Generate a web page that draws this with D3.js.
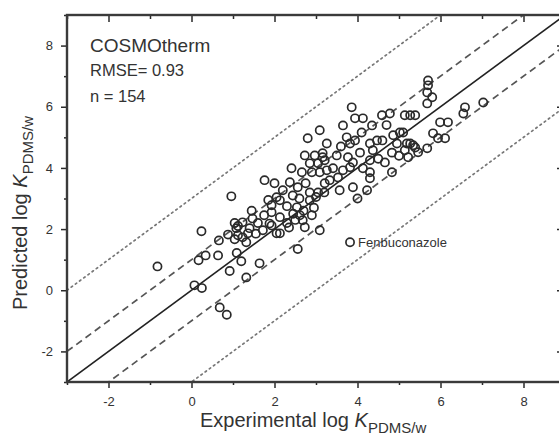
<!DOCTYPE html>
<html><head><meta charset="utf-8">
<script src="https://cdn.jsdelivr.net/npm/d3@7"></script>
<style>
html,body{margin:0;padding:0;background:#fff;}
svg{display:block;font-family:"Liberation Sans",Arial,sans-serif;}
</style></head>
<body>
<svg id="c" width="559" height="438"></svg>
<script>
// ---- data ----
const experimental = [
-0.82,0.24,0.07,0.25,0.17,0.34,0.64,0.66,0.88,0.68,0.85,0.92,1.09,1.2,1.32,1.64,1.32,1.36,1.12,1.12,
1.04,1.08,1.04,0.96,1.72,1.88,2.05,1.23,1.47,1.4,1.93,2.13,1.23,2.56,3.09,2.73,2.68,2.61,2.13,1.93,
2.54,1.93,2.05,2.13,2.85,2.44,2.2,2.85,3.05,2.56,2.37,2.0,1.76,2.41,2.66,2.9,3.09,3.26,2.85,3.05,
2.73,2.97,3.16,2.8,3.09,3.82,
3.86,3.94,4.13,4.59,4.78,5.14,5.27,5.39,3.65,4.35,4.1,5.02,4.86,3.74,3.94,3.82,3.26,4.3,4.47,4.95,
5.27,4.06,4.37,4.83,5.14,5.39,3.5,3.77,3.16,3.21,3.89,4.3,4.66,3.41,3.65,3.82,4.13,4.3,4.83,3.33,
3.53,4.3,3.89,3.57,4.23,4.0,3.21,
5.7,5.7,5.68,5.8,5.68,7.03,6.59,6.55,5.99,6.18,5.82,5.94,6.11,5.1,5.19,5.34,5.46,5.68,5.22,
1.6,1.75,2.3,2.45,2.3,2.7,2.95,2.75,2.35,1.55,2.9,3.0,2.6,1.85,3.2,2.5,4.6,5.0,4.5,3.6,4.7,1.45
];
const predicted = [
0.78,1.93,0.16,0.07,0.98,1.14,1.14,1.63,1.82,-0.56,-0.8,0.63,1.22,0.95,0.42,0.88,1.57,1.86,1.8,2.1,
2.2,2.03,1.67,3.07,1.96,2.18,1.86,2.22,2.35,2.03,2.12,1.86,1.73,1.35,1.96,2.06,2.29,2.45,2.39,2.55,
2.71,2.78,3.04,2.94,2.94,3.1,3.27,3.2,3.2,3.37,3.53,3.5,3.6,3.99,3.86,3.86,3.86,3.92,4.15,4.15,
4.41,4.41,4.35,4.97,5.23,1.57,
5.98,5.62,5.62,5.72,5.78,5.72,5.72,5.72,5.39,5.39,5.16,5.16,5.07,5.0,4.9,4.8,4.8,4.8,4.9,4.8,
4.8,4.5,4.58,4.5,4.58,4.67,4.41,4.35,4.48,4.25,4.18,4.25,4.18,3.99,3.92,4.02,3.99,3.86,3.86,3.6,
3.69,3.66,3.37,3.27,3.27,3.0,3.5,
6.86,6.7,6.47,6.31,6.11,6.14,5.98,5.78,5.49,5.49,5.13,4.97,4.97,5.16,4.8,4.74,4.51,4.64,4.35,
2.2,2.45,2.2,2.5,2.75,2.6,2.7,3.5,2.05,1.85,2.45,3.05,3.0,2.95,3.2,2.3,4.9,4.4,4.3,4.7,5.4,2.6
];
const xDomain = [-3, 9];
const yDomain = [-3, 9];
const majorTicks = [-2, 0, 2, 4, 6, 8];
const minorTicks = [-3, -1, 1, 3, 5, 7, 9];
const refOffsets = [0, 1, -1, 3, -3];           // y = x + offset
const refStyles = ["solid", "dashed", "dashed", "dotted", "dotted"];
const infoLines = ["COSMOtherm", "RMSE= 0.93", "n = 154"];
const labelled = {name: "Fenbuconazole", x: 3.82, y: 1.57};

// ---- layout ----
const svg = d3.select("#c");
const L = 67, T = 15, R = 565, B = 382;
const x = d3.scaleLinear().domain(xDomain).range([L, R]);
const y = d3.scaleLinear().domain(yDomain).range([B, T]);
const ink = "#2a2a2a", txt = "#333";

svg.append("defs").append("clipPath").attr("id","plot")
  .append("rect").attr("x",L).attr("y",T).attr("width",R-L).attr("height",B-T);

// reference lines
const dashMap = {solid:null, dashed:"7,4.5", dotted:"1.6,3.6"};
const colMap = {solid:"#222", dashed:"#555", dotted:"#777"};
const gl = svg.append("g").attr("clip-path","url(#plot)");
refOffsets.forEach((o,i)=>{
  const st = refStyles[i];
  gl.append("line")
    .attr("x1", x(xDomain[0])).attr("y1", y(xDomain[0]+o))
    .attr("x2", x(xDomain[1])).attr("y2", y(xDomain[1]+o))
    .attr("stroke", colMap[st]).attr("stroke-width", st==="solid"?1.6:1.7)
    .attr("stroke-dasharray", dashMap[st])
    .attr("stroke-linecap", st==="dotted"?"round":"butt");
});

// points
const pts = experimental.map((v,i)=>({x:v, y:predicted[i]}));
svg.append("g").attr("clip-path","url(#plot)")
  .selectAll("circle").data(pts).join("circle")
  .attr("cx", d=>x(d.x)).attr("cy", d=>y(d.y)).attr("r", 4.1)
  .attr("fill","none").attr("stroke", ink).attr("stroke-width", 1.7);

// axes
const fmt = d => String(d);
function styleAxis(g){
  g.select(".domain").remove();
  g.selectAll("line").attr("stroke", ink).attr("stroke-width", 1.5);
  g.selectAll("text").attr("fill", txt).attr("font-size", 13);
}
svg.append("g").attr("transform",`translate(0,${B})`)
  .call(d3.axisBottom(x).tickValues(majorTicks).tickSize(6).tickPadding(9).tickFormat(fmt))
  .call(styleAxis);
svg.append("g").attr("transform",`translate(0,${B})`)
  .call(d3.axisBottom(x).tickValues(minorTicks).tickSize(3).tickFormat(""))
  .call(styleAxis);
svg.append("g").attr("transform",`translate(${L},0)`)
  .call(d3.axisLeft(y).tickValues(majorTicks).tickSize(6).tickPadding(8).tickFormat(fmt))
  .call(styleAxis);
svg.append("g").attr("transform",`translate(${L},0)`)
  .call(d3.axisLeft(y).tickValues(minorTicks).tickSize(3).tickFormat(""))
  .call(styleAxis);
// top & right (inward)
svg.append("g").attr("transform",`translate(0,${T})`)
  .call(d3.axisBottom(x).tickValues(majorTicks).tickSize(7).tickFormat(""))
  .call(styleAxis);
svg.append("g").attr("transform",`translate(0,${T})`)
  .call(d3.axisBottom(x).tickValues(minorTicks).tickSize(4).tickFormat(""))
  .call(styleAxis);
svg.append("g").attr("transform",`translate(${R},0)`)
  .call(d3.axisLeft(y).tickValues(majorTicks).tickSize(8).tickFormat(""))
  .call(styleAxis);
svg.append("g").attr("transform",`translate(${R},0)`)
  .call(d3.axisLeft(y).tickValues(minorTicks).tickSize(4).tickFormat(""))
  .call(styleAxis);

// frame
svg.append("rect").attr("x",L).attr("y",T).attr("width",R-L).attr("height",B-T)
  .attr("fill","none").attr("stroke","#3a3a3a").attr("stroke-width",2.4);

// info text
const info = svg.append("g").attr("fill", txt);
info.append("text").attr("x",90).attr("y",52).attr("font-size",19).text(infoLines[0]);
info.append("text").attr("x",90).attr("y",76).attr("font-size",16.5).text(infoLines[1]);
info.append("text").attr("x",90).attr("y",102).attr("font-size",16.5).text(infoLines[2]);

// labelled point
svg.append("text").attr("x", x(labelled.x)+8).attr("y", y(labelled.y)+4.5)
  .attr("font-size",13).attr("fill",txt).text(labelled.name);

// axis titles
const xt = svg.append("text").attr("x",200).attr("y",427).attr("font-size",20).attr("fill",txt);
xt.append("tspan").text("Experimental log ");
xt.append("tspan").attr("font-style","italic").text("K");
xt.append("tspan").attr("font-size",15).attr("dy",6).text("PDMS/w");

const yt = svg.append("text").attr("transform","translate(27,310) rotate(-90)")
  .attr("font-size",20).attr("fill",txt);
yt.append("tspan").text("Predicted log ");
yt.append("tspan").attr("font-style","italic").text("K");
yt.append("tspan").attr("font-size",15).attr("dy",6).text("PDMS/w");
</script>
</body></html>
